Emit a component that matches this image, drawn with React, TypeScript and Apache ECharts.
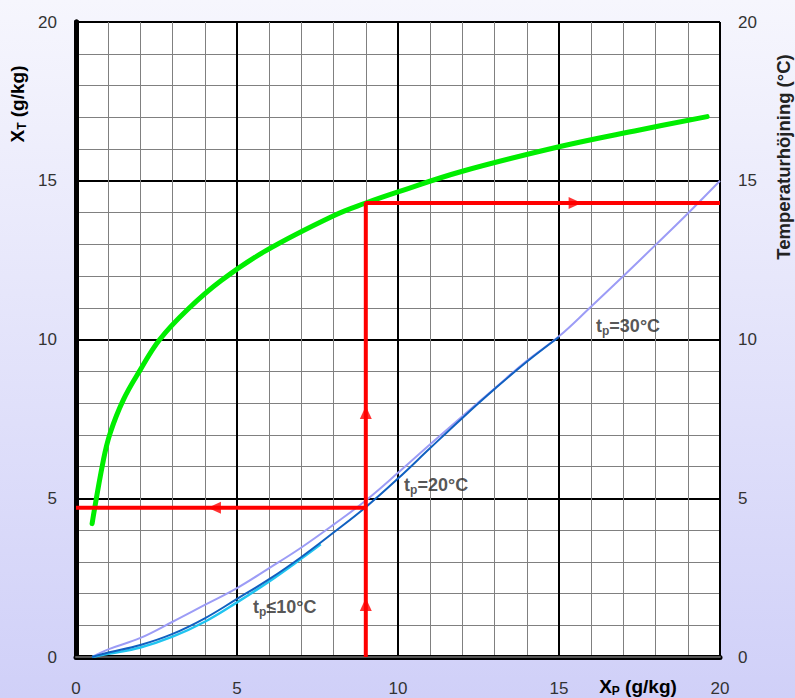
import React, { useEffect, useRef } from "react";
import * as echarts from "echarts";

// ---- data ----
const greenCurve: number[][] = [
  [0.5, 4.2], [0.85, 6.2], [1.06, 7.05], [1.47, 8.1], [2.0, 9.05], [2.6, 10.0],
  [3.45, 10.93], [4.5, 11.85], [5.9, 12.8], [8.0, 13.9], [9.0, 14.3], [10.0, 14.65],
  [12.0, 15.3], [15.0, 16.07], [17.5, 16.6], [19.6, 17.02],
];
const curve30: number[][] = [
  [0.5, 0], [1, 0.24], [2, 0.6], [3, 1.11], [4, 1.64], [5, 2.17], [6, 2.8], [7, 3.45],
  [8, 4.17], [9, 4.93], [10, 5.8], [11, 6.7], [12, 7.58], [13, 8.46], [14, 9.33],
  [15, 10.1], [16, 11.04], [17, 12.0], [18, 12.98], [19, 13.97], [20, 15.0],
];
const curve20: number[][] = [
  [0.5, 0], [1, 0.14], [2, 0.38], [3, 0.73], [4, 1.22], [5, 1.83], [6, 2.45], [7, 3.15],
  [8, 3.92], [9, 4.72], [10, 5.62], [11, 6.58], [12, 7.53], [13, 8.44], [14, 9.3], [15, 10.08],
];
const curve10: number[][] = [
  [0.5, 0], [1, 0.1], [2, 0.3], [3, 0.64], [4, 1.11], [5, 1.72], [6, 2.38], [7, 3.1], [7.6, 3.55],
];
const redPathUp: number[][] = [[9, 0], [9, 14.3], [20, 14.3]];
const redPathLeft: number[][] = [[9, 4.7], [0, 4.7]];
const arrowX = [9, 9, 15.5, 4.3];
const arrowY = [1.65, 7.7, 14.3, 4.7];
const arrowRot = [0, 0, -90, 90];

const labelX = [5.5, 10.19, 16.15];
const labelY = [1.57, 5.42, 10.43];
const labelText = ["≤10°C", "=20°C", "=30°C"];

const axisMin = 0;
const axisMax = 20;
const axisInterval = 5;
const yTitleLeft = "X_T (g/kg)";
const yTitleRight = "Temperaturhöjning (°C)";
const xTitle = "X_P (g/kg)";

const FONT = "Liberation Sans, Arial, sans-serif";

export default function App() {
  const ref = useRef<HTMLDivElement>(null);
  useEffect(() => {
    if (!ref.current) return;
    const chart = echarts.init(ref.current, undefined, { renderer: "svg" });
    const tickLabel = { color: "#333", fontSize: 17, fontFamily: FONT };
    const valueAxisBase = {
      type: "value" as const,
      min: axisMin,
      max: axisMax,
      interval: axisInterval,
      axisTick: { show: false },
    };
    const sub = (s: string) => {
      const idx = s.indexOf("_");
      if (idx < 0) return `{t|${s}}`;
      const a = s.slice(0, idx);
      const b = s.charAt(idx + 1);
      return `{t|${a}}{s|${b}}{t|${s.slice(idx + 2)}}`;
    };
    const titleRich = {
      t: { fontSize: 19, fontWeight: "bold", fontFamily: FONT, color: "#222", lineHeight: 22 },
      s: { fontSize: 12, fontWeight: "bold", fontFamily: FONT, color: "#222", lineHeight: 6, verticalAlign: "bottom" },
    };
    const smoothLine = { type: "line", smooth: 0.4, showSymbol: false };
    chart.setOption({
      animation: false,
      backgroundColor: new echarts.graphic.LinearGradient(0, 0, 0, 1, [
        { offset: 0, color: "#F6F6FD" },
        { offset: 1, color: "#D0D0F8" },
      ]),
      grid: {
        left: 76, right: 75, top: 22, bottom: 41,
        show: true, backgroundColor: "#ffffff", borderWidth: 0,
      },
      xAxis: [
        {
          ...valueAxisBase,
          position: "bottom",
          axisLine: { show: true, lineStyle: { color: "#000", width: 5 } },
          axisLabel: { ...tickLabel, margin: 23 },
          splitLine: { show: true, lineStyle: { color: "#000", width: 2 } },
          minorTick: { show: false, splitNumber: 5 },
          minorSplitLine: { show: true, lineStyle: { color: "#808080", width: 1 } },
        },
        {
          ...valueAxisBase,
          position: "top",
          axisLine: { show: true, lineStyle: { color: "#555", width: 2 } },
          axisLabel: { show: false },
          splitLine: { show: false },
        },
      ],
      yAxis: [
        {
          ...valueAxisBase,
          position: "left",
          axisLine: { show: true, lineStyle: { color: "#000", width: 5 } },
          axisLabel: { ...tickLabel, margin: 19 },
          splitLine: { show: true, lineStyle: { color: "#000", width: 2 } },
          minorTick: { show: false, splitNumber: 5 },
          minorSplitLine: { show: true, lineStyle: { color: "#808080", width: 1 } },
        },
        {
          ...valueAxisBase,
          position: "right",
          axisLine: { show: true, lineStyle: { color: "#000", width: 5 } },
          axisLabel: { ...tickLabel, margin: 18 },
          splitLine: { show: false },
        },
      ],
      series: [
        { ...smoothLine, data: curve30, lineStyle: { color: "#9C9CF6", width: 2 }, z: 3 },
        { ...smoothLine, data: curve10, lineStyle: { color: "#20C4F0", width: 2.5 }, z: 3 },
        { ...smoothLine, data: curve20, lineStyle: { color: "#1060C0", width: 2 }, z: 4 },
        { ...smoothLine, data: greenCurve, lineStyle: { color: "#00EE00", width: 5, cap: "round" }, z: 5 },
        {
          type: "line", data: redPathUp, showSymbol: false,
          lineStyle: { color: "#FF0000", width: 4 }, z: 6,
        },
        {
          type: "line", data: redPathLeft, showSymbol: false,
          lineStyle: { color: "#FF0000", width: 4 }, z: 6,
        },
        {
          type: "scatter", z: 7,
          symbol: "triangle", symbolSize: [12, 13],
          itemStyle: { color: "#FF0000" },
          data: arrowX.map((x, i) => ({ value: [x, arrowY[i]], symbolRotate: arrowRot[i] })),
        },
        {
          type: "scatter", z: 8, symbolSize: 0,
          data: labelX.map((x, i) => [x, labelY[i], labelText[i]]),
          label: {
            show: true, position: "right", distance: 0,
            formatter: (p: any) => `{t|t}{s|p}{t|${p.value[2]}}`,
            rich: {
              t: { fontSize: 18, fontWeight: "bold", fontFamily: FONT, color: "#2a2a2a", lineHeight: 22 },
              s: { fontSize: 12, fontWeight: "bold", fontFamily: FONT, color: "#2a2a2a", lineHeight: 8, verticalAlign: "bottom" },
            },
          },
        },
      ],
      graphic: [
        {
          type: "text", x: 17, y: 104, rotation: Math.PI / 2,
          style: { text: sub(yTitleLeft), rich: titleRich, align: "center", verticalAlign: "middle" },
        },
        {
          type: "text", x: 783, y: 157, rotation: Math.PI / 2,
          style: {
            text: yTitleRight, fontSize: 18.5, fontWeight: "bold", fontFamily: FONT, fill: "#222",
            align: "center", verticalAlign: "middle",
          },
        },
        {
          type: "text", x: 638, y: 686,
          style: { text: sub(xTitle), rich: titleRich, align: "center", verticalAlign: "middle" },
        },
      ],
    });
    return () => chart.dispose();
  }, []);
  return (
    <div
      ref={ref}
      style={{ position: "fixed", left: 0, top: 0, width: 795, height: 698 }}
    />
  );
}
